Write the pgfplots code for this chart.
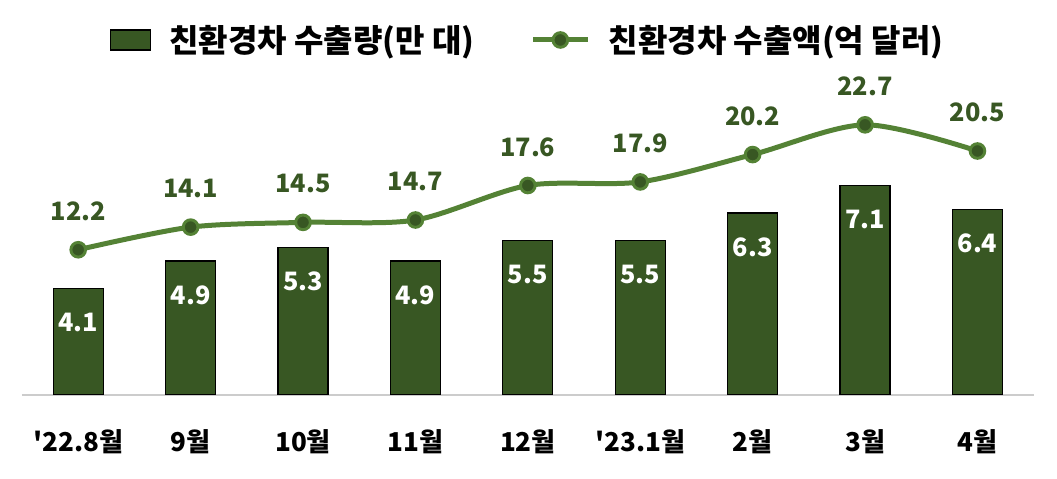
\documentclass[border=0pt]{standalone}
\usepackage{fontspec}
\setmainfont{Noto Sans CJK KR}
\usepackage{pgfplots}
\pgfplotsset{compat=1.18}
\definecolor{bargreen}{HTML}{385723}
\definecolor{linegreen}{HTML}{548235}
\begin{document}
\begin{tikzpicture}[font=\bfseries\fontsize{19pt}{22pt}\selectfont]
\useasboundingbox (-16.5pt,-63pt) rectangle (776.5pt,296.25pt);
\begin{axis}[
  at={(0,0)}, anchor=south west,
  scale only axis, width=759pt, height=236.25pt,
  xmin=-0.5, xmax=8.5, ymin=1, ymax=10.18,
  axis x line=bottom, axis y line=none,
  x axis line style={-, draw=black!20, line width=1.2pt},
  xtick={0,...,8}, major tick length=0pt,
  xticklabels={\textquotesingle22.8월,9월,10월,11월,12월,\textquotesingle23.1월,2월,3월,4월},
  xticklabel style={anchor=north, yshift=-22.5pt, font=\bfseries\fontsize{19.5pt}{22pt}\selectfont},
  ytick=\empty,
  ybar, bar width=37.5pt,
  nodes near coords={\pgfmathprintnumber[fixed,fixed zerofill,precision=1,assume math mode=true]{\pgfplotspointmeta}},
  every node near coord/.append style={anchor=center, yshift=-25.5pt, text=white, font=\bfseries\fontsize{19pt}{22pt}\selectfont},
  clip=false,
]
\addplot[fill=bargreen, draw=black, line width=0.9pt] coordinates {
 (0,4.1) (1,4.9) (2,5.3) (3,4.9) (4,5.5) (5,5.5) (6,6.3) (7,7.1) (8,6.4)};
\end{axis}
\begin{axis}[
  at={(0,0)}, anchor=south west,
  scale only axis, width=759pt, height=236.25pt,
  xmin=-0.5, xmax=8.5, ymin=0, ymax=26.47,
  axis lines=none, xtick=\empty, ytick=\empty,
  clip=false,
  legend columns=2,
  legend style={at={(0.5,1.127)}, anchor=center, draw=none, fill=none,
    font=\bfseries\fontsize{24pt}{27pt}\selectfont,
    /tikz/every odd column/.append style={column sep=12pt},
    /tikz/every even column/.append style={column sep=40pt}},
  nodes near coords={\pgfmathprintnumber[fixed,fixed zerofill,precision=1,assume math mode=true]{\pgfplotspointmeta}},
  every node near coord/.append style={anchor=center, yshift=29pt, text=bargreen, font=\bfseries\fontsize{19pt}{22pt}\selectfont},
]
\addlegendimage{legend image code/.code={\draw[fill=bargreen, draw=black, line width=0.9pt] (0pt,-7.5pt) rectangle (30pt,7.5pt);}}
\addlegendentry{친환경차 수출량(만 대)}
\addlegendimage{legend image code/.code={\draw[linegreen, line width=3.75pt] (0pt,0pt) -- (41pt,0pt); \draw[fill=bargreen, draw=linegreen, line width=2.2pt] (20.5pt,0pt) circle (5.5pt);}}
\addlegendentry{친환경차 수출액(억 달러)}
\addplot[linegreen, line width=3.75pt, smooth, tension=0.5,
  mark=*, mark size=5.5pt, mark options={fill=bargreen, draw=linegreen, line width=2.2pt}]
 coordinates {
 (0,12.2) (1,14.1) (2,14.5) (3,14.7) (4,17.6) (5,17.9) (6,20.2) (7,22.7) (8,20.5)};
\end{axis}
\end{tikzpicture}
\end{document}
